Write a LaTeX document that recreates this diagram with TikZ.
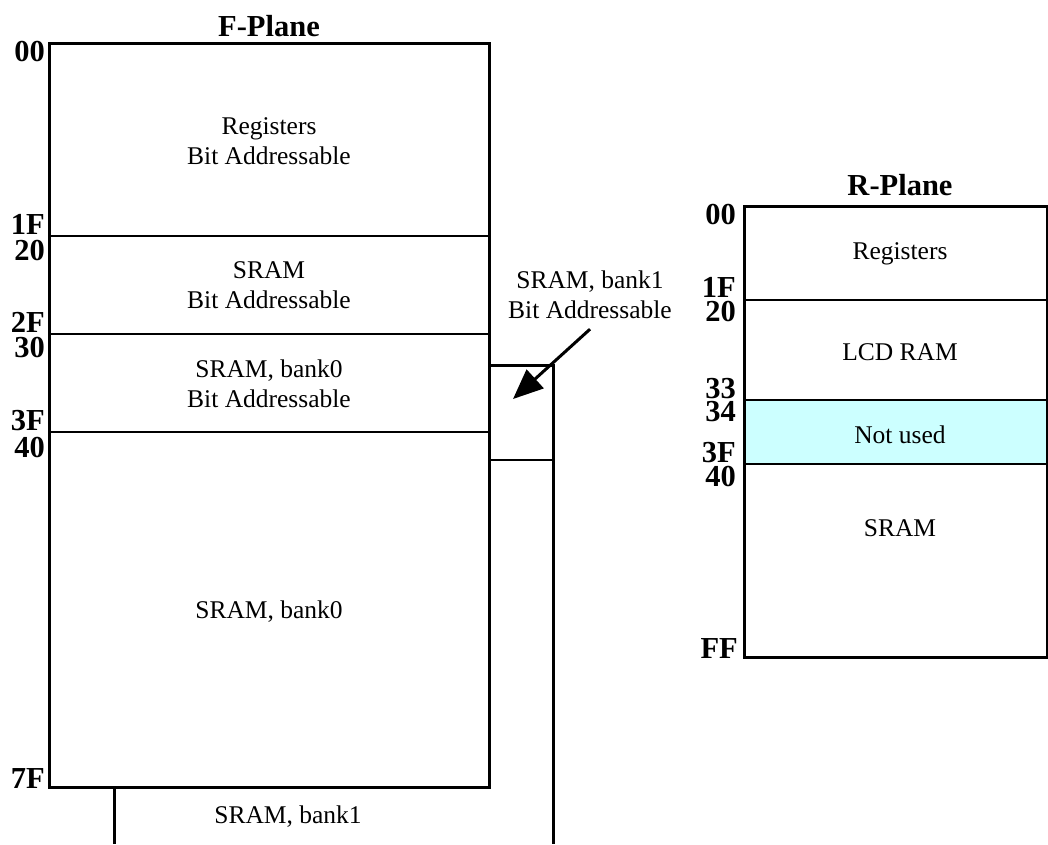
\documentclass[tikz,border=0pt]{standalone}
\usepackage{fontspec}
\setmainfont{Liberation Serif}
\usetikzlibrary{arrows.meta}

\definecolor{unused}{RGB}{204,255,255}

\tikzset{
  addr/.style={font=\bfseries\fontsize{30.5}{30}\selectfont, anchor=east, inner sep=0pt},
  title/.style={font=\bfseries\fontsize{30.5}{30}\selectfont, inner sep=0pt},
  region/.style={font=\fontsize{25.5}{30}\selectfont, align=center, inner sep=0pt},
  frame/.style={line width=3pt},
  split/.style={line width=1.5pt},
}

\begin{document}
\begin{tikzpicture}[x=1pt, y=-1pt]
  \useasboundingbox (0,0) rectangle (1048,844);

  % F-Plane, with bank1 behind it
  \draw[frame] (489,365) -- (553,365) -- (553,844);
  \draw[frame] (114,787) -- (114,844);
  \draw[split] (489,460) -- (553,460);
  \draw[frame] (49,43) rectangle (489,787);
  \draw[split] (49,236) -- (489,236);
  \draw[split] (49,334) -- (489,334);
  \draw[split] (49,432) -- (489,432);

  \node[title] (ftitle) at (269,26) {F-Plane};
  \node[addr] (f00) at (45,52) {00};
  \node[addr] (f1F) at (45,224) {1F};
  \node[addr] (f20) at (45,250) {20};
  \node[addr] (f2F) at (45,322) {2F};
  \node[addr] (f30) at (45,347) {30};
  \node[addr] (f3F) at (45,421) {3F};
  \node[addr] (f40) at (45,447) {40};
  \node[addr] (f7F) at (45,778) {7F};

  \node[region] (fregs) at (269,141) {Registers\\Bit Addressable};
  \node[region] (fsram) at (269,285) {SRAM\\Bit Addressable};
  \node[region] (fbank0a) at (269,384) {SRAM, bank0\\Bit Addressable};
  \node[region] (fbank0) at (269,612) {SRAM, bank0};
  \node[region] (fbank1) at (288,817) {SRAM, bank1};

  % pointer to the bank1 bit area
  \node[region] (b1lbl) at (590,295) {SRAM, bank1\\Bit Addressable};
  \coordinate (b1tip) at (513,399);
  \draw[line width=3pt, -{Triangle[length=30pt,width=25pt]}] ([yshift=-10pt]b1lbl.south) -- (b1tip);

  % R-Plane
  \fill[unused] (744,400) rectangle (1047,464);
  \draw[frame] (744,206) rectangle (1047,657);
  \draw[split] (744,300) -- (1047,300);
  \draw[split] (744,400) -- (1047,400);
  \draw[split] (744,464) -- (1047,464);

  \node[title] (rtitle) at (900,185) {R-Plane};
  \node[addr] (r00) at (736,215) {00};
  \node[addr] (r1F) at (736,287) {1F};
  \node[addr] (r20) at (736,311) {20};
  \node[addr] (r33) at (736,389) {33};
  \node[addr] (r34) at (736,412) {34};
  \node[addr] (r3F) at (736,453) {3F};
  \node[addr] (r40) at (736,476) {40};
  \node[addr] (rFF) at (738,648) {FF};

  \node[region] (rregs) at (900,254) {Registers};
  \node[region] (rlcd) at (900,352) {LCD RAM};
  \node[region] (rnot) at (900,435) {Not used};
  \node[region] (rsram) at (900,528) {SRAM};
\end{tikzpicture}
\end{document}
